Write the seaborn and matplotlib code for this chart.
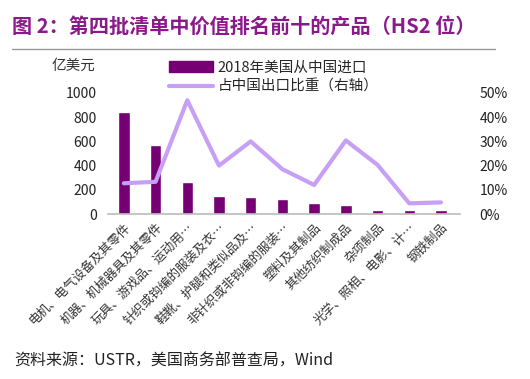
import numpy as np
import pandas as pd
import seaborn as sns
import matplotlib.pyplot as plt
from matplotlib.patches import Patch
from matplotlib.lines import Line2D

sns.set_theme(style="white")
plt.rcParams['font.family'] = ['Noto Sans CJK SC', 'DejaVu Sans']

# 数据
products = ["电机、电气设备及其零件", "机器、机械器具及其零件", "玩具、游戏品、运动用…",
            "针织或钩编的服装及衣…", "鞋靴、护腿和类似品及…", "非针织或非钩编的服装…",
            "塑料及其制品", "其他纺织制成品", "杂项制品", "光学、照相、电影、计…", "钢铁制品"]
imports_2018 = [845, 572, 262, 145, 137, 128, 90, 76, 31, 31, 31]
share = [0.127, 0.133, 0.47, 0.20, 0.30, 0.185, 0.12, 0.304, 0.203, 0.044, 0.048]

df = pd.DataFrame({"product": products, "imports": imports_2018, "share": share,
                   "pos": np.arange(len(products))})

bar_color = "#740074"
line_color = "#c7a0f6"
title_color = "#8a1a8a"

fig = plt.figure(figsize=(5.30, 3.79), dpi=100)
ax = fig.add_axes([108/530, 1 - 214/379, 352/530, 121/379])

sns.barplot(data=df, x="product", y="imports", color=bar_color, width=0.36,
            saturation=1, ax=ax)
ax.set_ylim(0, 1000)
ax.set_yticks(range(0, 1001, 200))
ax.set_xlim(-0.5, 10.6)
ax.set_xlabel("")
ax.set_ylabel("")
ax.set_xticks(range(len(products)))
ax.set_xticklabels(products, rotation=45, ha="right", rotation_mode="anchor",
                   fontsize=9, color="#333333")
ax.tick_params(axis="y", labelsize=10, length=0, pad=8, colors="#222222")
ax.tick_params(axis="x", length=0, pad=5)
ax.set_xticks(np.arange(-0.5, 11, 1), minor=True)
ax.tick_params(axis="x", which="minor", length=3, color="#bbbbbb", direction="out")
for s in ["top", "left", "right"]:
    ax.spines[s].set_visible(False)
ax.spines["bottom"].set_color("#bbbbbb")
ax.spines["bottom"].set_linewidth(1.2)

ax2 = ax.twinx()
sns.lineplot(data=df, x="pos", y="share", color=line_color, linewidth=3, ax=ax2)
ax2.set_ylim(0, 0.5)
ax2.set_yticks(np.arange(0, 0.51, 0.1))
ax2.set_yticklabels([f"{int(round(v*100))}%" for v in np.arange(0, 0.51, 0.1)])
ax2.tick_params(axis="y", labelsize=10, length=0, pad=14, colors="#222222")
ax2.set_ylabel("")
for s in ["top", "left", "right", "bottom"]:
    ax2.spines[s].set_visible(False)
ax2.set_xlim(-0.5, 10.6)

handles = [Patch(facecolor=bar_color, edgecolor=bar_color),
           Line2D([0], [0], color=line_color, linewidth=3)]
fig.legend(handles, ["2018年美国从中国进口", "占中国出口比重（右轴）"],
           loc="upper left", bbox_to_anchor=(163/530, 1 - 55/379), frameon=False,
           fontsize=10.5, handlelength=3.0, handleheight=0.8, labelspacing=0.35,
           handletextpad=0.35, borderaxespad=0)

fig.text(52/530, 1 - 66/379, "亿美元", fontsize=10.5, color="#333333", va="center")

fig.text(12/530, 1 - 26/379, "图 2：第四批清单中价值排名前十的产品（HS2 位）",
         fontsize=14.5, fontweight="bold", color=title_color, va="center")
fig.add_artist(Line2D([12/530, 495/530], [1 - 49/379, 1 - 49/379],
                      color="#999999", linewidth=1))
fig.text(14/530, 1 - 361/379, "资料来源：USTR，美国商务部普查局，Wind",
         fontsize=11.5, color="#222222", va="center")

fig.savefig("out.png", dpi=100)
